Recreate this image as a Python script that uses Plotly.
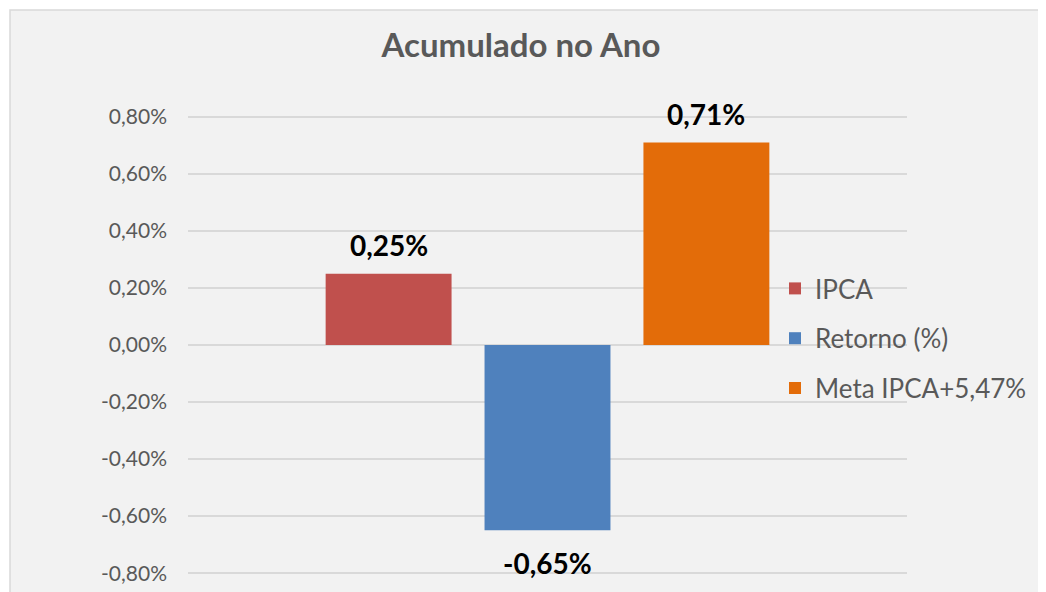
import plotly.graph_objects as go

categories = ["Acumulado no Ano"]
series_names = ["IPCA", "Retorno (%)", "Meta IPCA+5,47%"]
ipca = [0.0025]
retorno = [-0.0065]
meta = [0.0071]
colors = ["#C0504D", "#4F81BD", "#E36C09"]
y_ticks = [-0.008, -0.006, -0.004, -0.002, 0.0, 0.002, 0.004, 0.006, 0.008]
y_ticktext = ["-0,80%", "-0,60%", "-0,40%", "-0,20%", "0,00%", "0,20%", "0,40%", "0,60%", "0,80%"]

FONT = "Lato"

# page has an 8px body margin; layout coordinates are figure coordinates
Y_RANGE = [-0.0081, 0.0081]
L, T = 180, 106
W, H = 1046, 592
plot_right, plot_bottom = 899, 568
R, B = W - plot_right, H - plot_bottom
pw, ph = plot_right - L, plot_bottom - T

BARGAP = 0.337
BARGROUPGAP = 0.2075

fig = go.Figure()
all_vals = [ipca, retorno, meta]
for i, (name, vals) in enumerate(zip(series_names, all_vals)):
    fig.add_trace(go.Bar(
        x=categories, y=vals, name=name,
        marker=dict(color=colors[i], line=dict(width=0)),
        legendgroup=name, hoverinfo="name+y",
    ))

# data labels: position from bar geometry
slot_px = pw * (1 - BARGAP) / len(series_names)
annotations = []
for i, vals in enumerate(all_vals):
    for c, v in zip(categories, vals):
        txt = f"{v*100:.2f}%".replace(".", ",")
        annotations.append(dict(
            x=c, y=v, xref="x", yref="y", text=f"<b>{txt}</b>", showarrow=False,
            xshift=(i - (len(series_names) - 1) / 2) * slot_px,
            yshift=29 if v >= 0 else -33, yanchor="middle", xanchor="center",
            font=dict(family=FONT, size=28, color="#000000"),
        ))

fig.update_layout(
    width=W, height=H,
    margin=dict(l=L, r=R, t=T, b=B),
    paper_bgcolor="#ffffff",
    plot_bgcolor="rgba(0,0,0,0)",
    barmode="group",
    bargap=BARGAP,
    bargroupgap=BARGROUPGAP,
    title=dict(text="<b>Acumulado no Ano</b>", x=(513 - L) / pw, xref="paper",
               xanchor="center", y=1 - 37 / H, yanchor="middle",
               font=dict(family=FONT, size=33, color="#595959")),
    xaxis=dict(showticklabels=False, showgrid=False, zeroline=False,
               showline=False, ticks=""),
    yaxis=dict(range=Y_RANGE, tickvals=y_ticks, ticktext=y_ticktext,
               showgrid=True, gridcolor="#d9d9d9", gridwidth=1.5,
               zeroline=True, zerolinecolor="#d9d9d9", zerolinewidth=1.5,
               showline=False, ticks="", ticklabelstandoff=20,
               tickfont=dict(family=FONT, size=21, color="#595959")),
    legend=dict(x=(767 - L) / pw, xanchor="left", y=(plot_bottom - 257) / ph,
                yanchor="top", bgcolor="rgba(0,0,0,0)",
                traceorder="grouped", tracegroupgap=13,
                font=dict(family=FONT, size=26, color="#595959")),
    showlegend=True,
    annotations=annotations,
    shapes=[dict(type="rect", xref="paper", yref="paper", layer="below",
                 x0=(2 - L) / pw, x1=(W + 10 - L) / pw,
                 y0=(plot_bottom - (H + 10)) / ph, y1=(plot_bottom - 2) / ph,
                 fillcolor="#f2f2f2", line=dict(color="#d9d9d9", width=1.5))],
)

fig.write_html("out.html")
